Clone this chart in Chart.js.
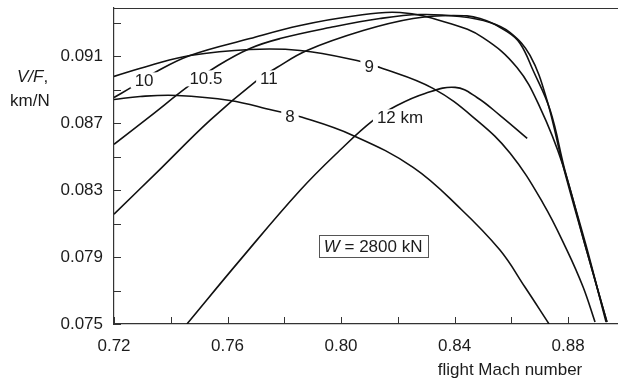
<!DOCTYPE html>
<html>
<head>
<meta charset="utf-8">
<script src="https://cdn.jsdelivr.net/npm/chart.js@4.4.0/dist/chart.umd.min.js"></script>
<style>
  html, body { margin: 0; padding: 0; background: #fff; }
  #wrap { position: relative; width: 618px; height: 381px; }
</style>
</head>
<body>
<div id="wrap"><canvas id="chart"></canvas></div>
<script>
// Range factor V/F against flight Mach number, W = 2800 kN, one curve per altitude
const mach8 = [0.7200, 0.7292, 0.7422, 0.7609, 0.7760, 0.7863, 0.8042, 0.8254, 0.8419, 0.8560, 0.8648, 0.8733];
const vf8   = [0.08843, 0.08861, 0.08867, 0.08837, 0.08778, 0.08736, 0.08628, 0.08437, 0.08193, 0.07942, 0.07721, 0.07500];

const mach9 = [0.7200, 0.7327, 0.7468, 0.7679, 0.7856, 0.8056, 0.8137, 0.8324, 0.8479, 0.8596, 0.8712, 0.8796, 0.8853, 0.8895];
const vf9   = [0.08981, 0.09046, 0.09106, 0.09142, 0.09136, 0.09076, 0.09034, 0.08909, 0.08718, 0.08521, 0.08222, 0.07942, 0.07721, 0.07512];

const mach10 = [0.7200, 0.7267, 0.7344, 0.7468, 0.7679, 0.7856, 0.8032, 0.8208, 0.8384, 0.8500, 0.8620, 0.8701, 0.8782, 0.8860, 0.8937];
const vf10   = [0.08855, 0.08921, 0.09004, 0.09106, 0.09207, 0.09285, 0.09339, 0.09363, 0.09297, 0.09213, 0.09034, 0.08796, 0.08449, 0.07972, 0.07512];

const mach105 = [0.7200, 0.7327, 0.7461, 0.7567, 0.7679, 0.7785, 0.7961, 0.8137, 0.8278, 0.8419, 0.8525, 0.8596, 0.8666, 0.8726, 0.8782, 0.8860, 0.8937];
const vf105   = [0.08575, 0.08742, 0.08921, 0.09046, 0.09148, 0.09207, 0.09273, 0.09327, 0.09351, 0.09339, 0.09303, 0.09243, 0.09106, 0.08837, 0.08449, 0.07972, 0.07512];

const mach11 = [0.7200, 0.7362, 0.7538, 0.7704, 0.7774, 0.7880, 0.8078, 0.8254, 0.8395, 0.8490, 0.8585, 0.8631, 0.8677, 0.8737, 0.8789, 0.8863, 0.8934];
const vf11   = [0.08157, 0.08425, 0.08718, 0.08957, 0.09034, 0.09136, 0.09255, 0.09327, 0.09345, 0.09327, 0.09249, 0.09178, 0.09016, 0.08778, 0.08419, 0.07972, 0.07512];

const mach12 = [0.7457, 0.7644, 0.7856, 0.7996, 0.8113, 0.8197, 0.8296, 0.8402, 0.8479, 0.8560, 0.8656];
const vf12   = [0.07500, 0.07882, 0.08300, 0.08539, 0.08718, 0.08807, 0.08879, 0.08915, 0.08855, 0.08748, 0.08610];

// inline curve labels, placed in data units
const curveLabels = ['10', '10.5', '11', '9', '8', '12 km'];
const labelMach   = [0.7306, 0.7524, 0.7746, 0.8099, 0.7820, 0.8208];
const labelVF     = [0.08957, 0.08969, 0.08969, 0.09040, 0.08742, 0.08736];

const xTicks = [0.72, 0.74, 0.76, 0.78, 0.80, 0.82, 0.84, 0.86, 0.88];
const xLabelled = [0.72, 0.76, 0.80, 0.84, 0.88];
const yTicks = [0.075, 0.077, 0.079, 0.081, 0.083, 0.085, 0.087, 0.089, 0.091, 0.093];
const yLabelled = [0.075, 0.079, 0.083, 0.087, 0.091];

const noteMach = 0.8113;
const noteVF = 0.07966;

const FONT = '"Liberation Sans", Arial, Helvetica, sans-serif';
const SIZE = 17;
const INK = '#1c1c1c';

const toPoints = (xs, ys) => xs.map((x, i) => ({ x, y: ys[i] }));
const has = (list, v) => list.some(t => Math.abs(t - v) < 1e-7);

const series = [
    [mach8, vf8], [mach9, vf9], [mach10, vf10],
    [mach105, vf105], [mach11, vf11], [mach12, vf12]
];

// ticks point into the plot, top edge closed, labels and note drawn over the lines
const decorations = {
    id: 'decorations',
    afterDatasetsDraw(chart) {
        const { ctx, chartArea: a, scales: { x, y } } = chart;
        ctx.save();

        ctx.strokeStyle = '#333';
        ctx.lineWidth = 1;
        ctx.beginPath();
        ctx.moveTo(a.left, a.top + 0.5);
        ctx.lineTo(a.right, a.top + 0.5);
        x.ticks.forEach(t => {
            const px = Math.round(x.getPixelForValue(t.value)) + 0.5;
            ctx.moveTo(px, a.bottom);
            ctx.lineTo(px, a.bottom - 7);
        });
        y.ticks.forEach(t => {
            const py = Math.round(y.getPixelForValue(t.value)) + 0.5;
            ctx.moveTo(a.left, py);
            ctx.lineTo(a.left + 7, py);
        });
        ctx.stroke();

        const font = `${SIZE}px ${FONT}`;
        const italic = `italic ${SIZE}px ${FONT}`;

        ctx.font = font;
        ctx.textAlign = 'center';
        ctx.textBaseline = 'middle';
        curveLabels.forEach((txt, i) => {
            const px = x.getPixelForValue(labelMach[i]);
            const py = y.getPixelForValue(labelVF[i]);
            const w = ctx.measureText(txt).width;
            ctx.fillStyle = '#fff';
            ctx.fillRect(px - w / 2 - 4, py - 8, w + 8, 16);
            ctx.fillStyle = INK;
            ctx.fillText(txt, px, py + 1);
        });

        // weight note in a thin box
        const nx = x.getPixelForValue(noteMach);
        const ny = y.getPixelForValue(noteVF);
        ctx.textAlign = 'left';
        ctx.font = italic;
        const wW = ctx.measureText('W').width;
        ctx.font = font;
        const rest = ' = 2800 kN';
        const wR = ctx.measureText(rest).width;
        const total = wW + wR;
        const left = nx - total / 2;
        ctx.fillStyle = '#fff';
        ctx.fillRect(left - 5, ny - 11, total + 10, 22);
        ctx.strokeStyle = '#555';
        ctx.strokeRect(Math.round(left - 5) + 0.5, Math.round(ny - 11) + 0.5, Math.round(total + 10), 22);
        ctx.fillStyle = INK;
        ctx.font = italic;
        ctx.fillText('W', left, ny + 1);
        ctx.font = font;
        ctx.fillText(rest, left + wW, ny + 1);

        // axis titles
        ctx.textAlign = 'left';
        ctx.font = italic;
        const vfW = ctx.measureText('V/F').width;
        ctx.fillText('V/F', 17, 77);
        ctx.font = font;
        ctx.fillText(',', 17 + vfW, 77);
        ctx.fillText('km/N', 10, 101);
        ctx.textAlign = 'center';
        ctx.fillText('flight Mach number', 510, 370);

        ctx.restore();
    }
};

new Chart(document.getElementById('chart'), {
    type: 'scatter',
    data: {
        datasets: series.map(([xs, ys]) => ({
            data: toPoints(xs, ys),
            showLine: true,
            borderColor: '#111',
            borderWidth: 1.6,
            pointRadius: 0,
            tension: 0.4,
            fill: false
        }))
    },
    options: {
        responsive: true,
        maintainAspectRatio: false,
        animation: false,
        layout: { padding: { top: 8, right: 0, left: 0, bottom: 0 } },
        plugins: { legend: { display: false }, tooltip: { enabled: false } },
        scales: {
            x: {
                type: 'linear',
                min: 0.72,
                max: 0.8976,
                afterBuildTicks: scale => { scale.ticks = xTicks.map(v => ({ value: v })); },
                afterFit: scale => {
                    scale.height = 57;
                    scale.paddingLeft = 0;
                    scale.paddingRight = 0;
                },
                ticks: {
                    autoSkip: false,
                    maxRotation: 0,
                    padding: 12,
                    color: INK,
                    font: { family: FONT, size: SIZE },
                    callback: v => has(xLabelled, v) ? v.toFixed(2) : ''
                },
                grid: { display: false, drawTicks: false },
                border: { display: true, color: '#333', width: 1.2 }
            },
            y: {
                type: 'linear',
                min: 0.075,
                max: 0.0939,
                afterBuildTicks: scale => { scale.ticks = yTicks.map(v => ({ value: v })); },
                afterFit: scale => {
                    scale.width = 114;
                    scale.paddingTop = 0;
                    scale.paddingBottom = 0;
                },
                ticks: {
                    autoSkip: false,
                    padding: 11,
                    color: INK,
                    font: { family: FONT, size: SIZE },
                    callback: v => has(yLabelled, v) ? v.toFixed(3) : ''
                },
                grid: { display: false, drawTicks: false },
                border: { display: true, color: '#333', width: 1.2 }
            }
        }
    },
    plugins: [decorations]
});
</script>
</body>
</html>
